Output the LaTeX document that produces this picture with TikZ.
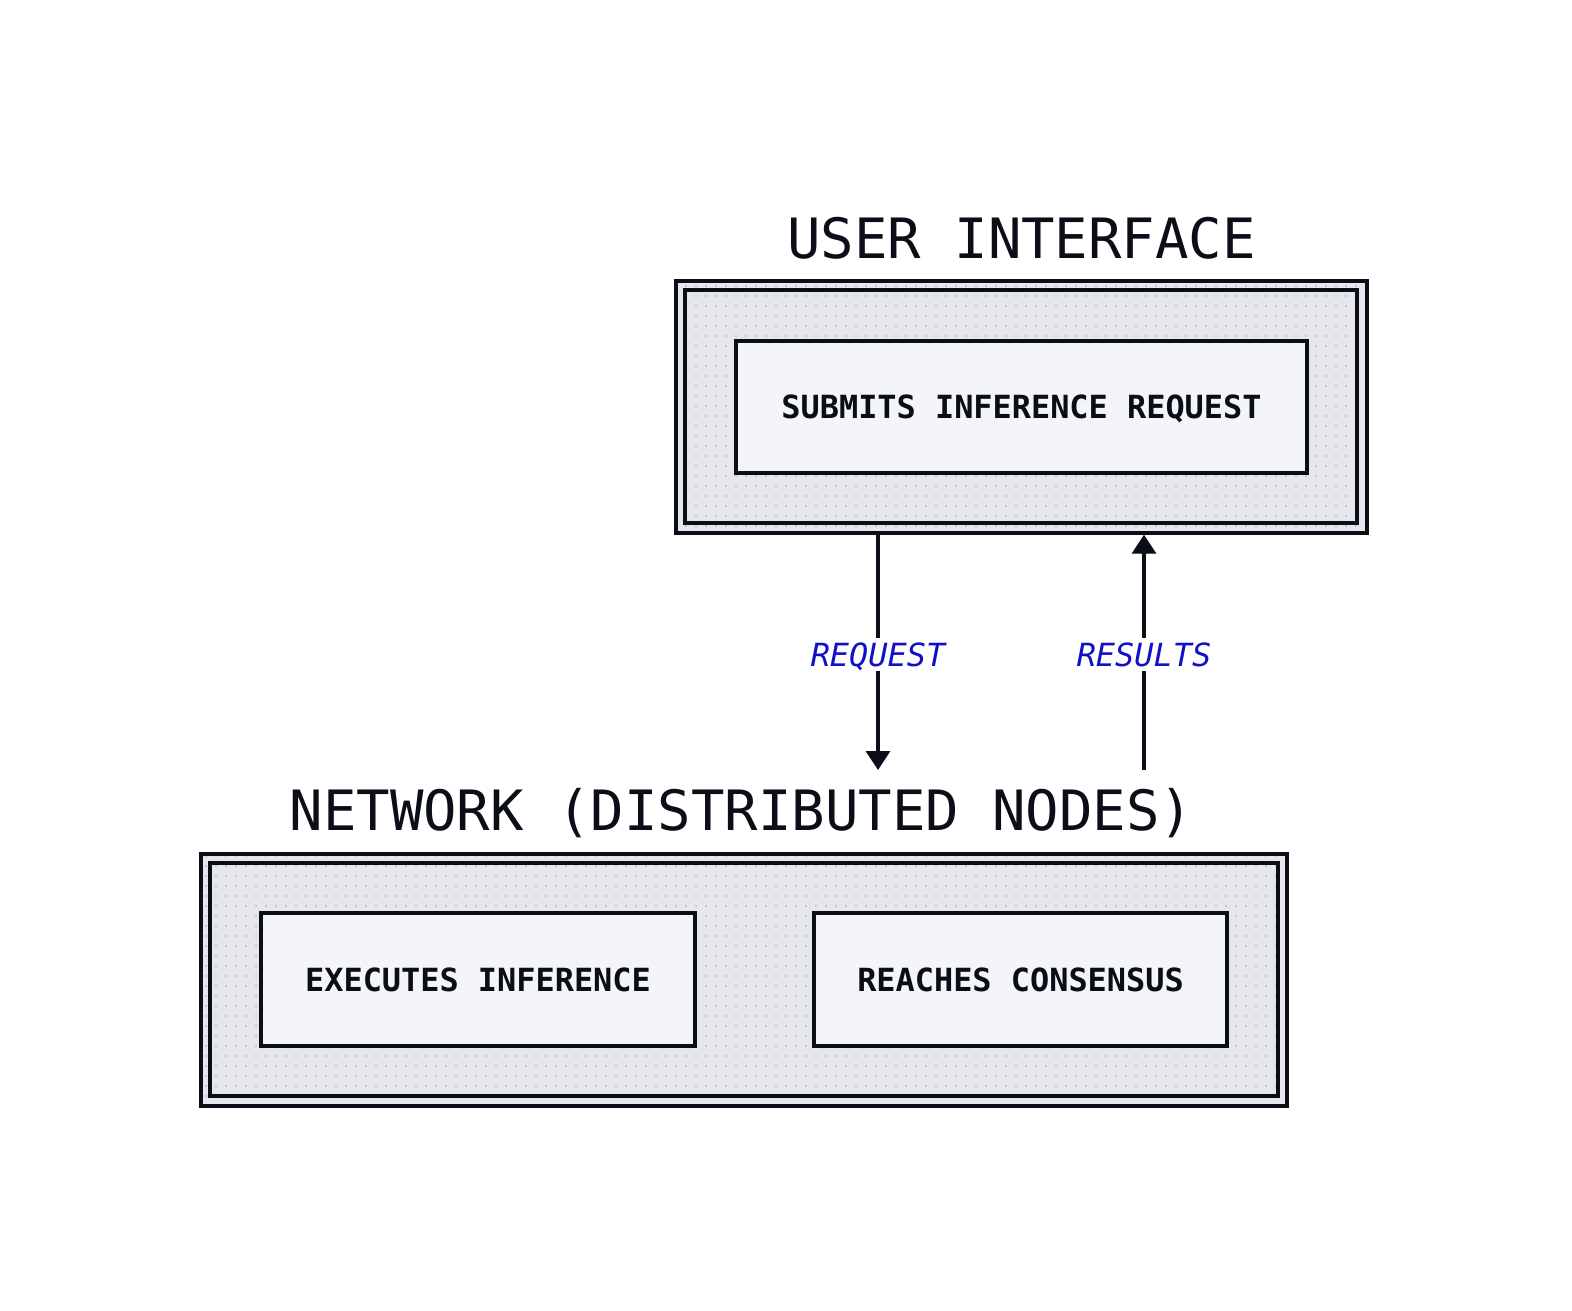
\documentclass[tikz,border=0pt]{standalone}
\usepackage{fontspec}
\setmonofont{DejaVu Sans Mono}
\usetikzlibrary{arrows.meta}
\definecolor{ink}{HTML}{0B0D17}
\definecolor{panel}{HTML}{E6E7EC}
\definecolor{boxfill}{HTML}{F4F5F9}
\definecolor{dotc}{HTML}{C6C8D0}
\definecolor{lblblue}{RGB}{16,16,200}
\begin{document}
\begin{tikzpicture}[x=1pt,y=-1pt,
  frame/.style={draw=ink, line width=3.4pt, fill=panel, rectangle, inner sep=0pt},
  innerframe/.style={draw=ink, line width=3.4pt},
  stepbox/.style={draw=ink, line width=3.4pt, fill=boxfill, rectangle, inner sep=0pt,
    font=\ttfamily\bfseries\fontsize{31.9}{34}\selectfont, text=ink,
    text height=23.2pt, text depth=0pt},
  title/.style={font=\ttfamily\fontsize{55.6}{60}\selectfont, text=ink, anchor=base, inner sep=0pt},
  lbl/.style={font=\ttfamily\itshape\fontsize{31.9}{34}\selectfont, text=lblblue, fill=white,
    inner sep=5pt, text height=23.2pt, text depth=0pt},
  arr/.style={draw=ink, line width=3.4pt, -{Triangle[width=24pt,length=19pt]}},
  dot/.style={fill=dotc}
]
\useasboundingbox (0,0) rectangle (1572,1310);

% ---------- User interface ----------
\node[frame, minimum width=691pt, minimum height=252pt] (ui) at (1021.5,407) {};
\begin{scope}
\clip (678,283) rectangle (1365,531);
\foreach \x in {686,696,...,1356} \foreach \y in {286,296,...,526} \fill[dot] (\x-1,\y-1) rectangle (\x+1,\y+1);
\end{scope}
\draw[innerframe] (685,290) rectangle (1357,523);
\node[stepbox, minimum width=571pt, minimum height=132pt] (submit) at (1021.5,407) {SUBMITS INFERENCE REQUEST};
\node[title] (uititle) at (1021.5,258) {USER INTERFACE};

% ---------- Network ----------
\node[frame, minimum width=1086pt, minimum height=252pt] (net) at (744,980) {};
\begin{scope}
\clip (203,856) rectangle (1285,1104);
\foreach \x in {206,216,...,1286} \foreach \y in {856,866,...,1106} \fill[dot] (\x-1,\y-1) rectangle (\x+1,\y+1);
\end{scope}
\draw[innerframe] (210,863) rectangle (1278,1096);
\node[stepbox, minimum width=434pt, minimum height=133pt] (exec) at (478,979.5) {EXECUTES INFERENCE};
\node[stepbox, minimum width=413pt, minimum height=133pt] (cons) at (1020.5,979.5) {REACHES CONSENSUS};
\node[title] (nettitle) at (741.5,830) {NETWORK (DISTRIBUTED NODES)};

% ---------- Connectors ----------
\coordinate (reqend) at (878,770);
\coordinate (resstart) at (1144,770);
\draw[arr] (ui.south -| reqend) -- (reqend) node[lbl, pos=0.51] {REQUEST};
\draw[arr] (resstart) -- (ui.south -| resstart) node[lbl, pos=0.49] {RESULTS};
\end{tikzpicture}
\end{document}
